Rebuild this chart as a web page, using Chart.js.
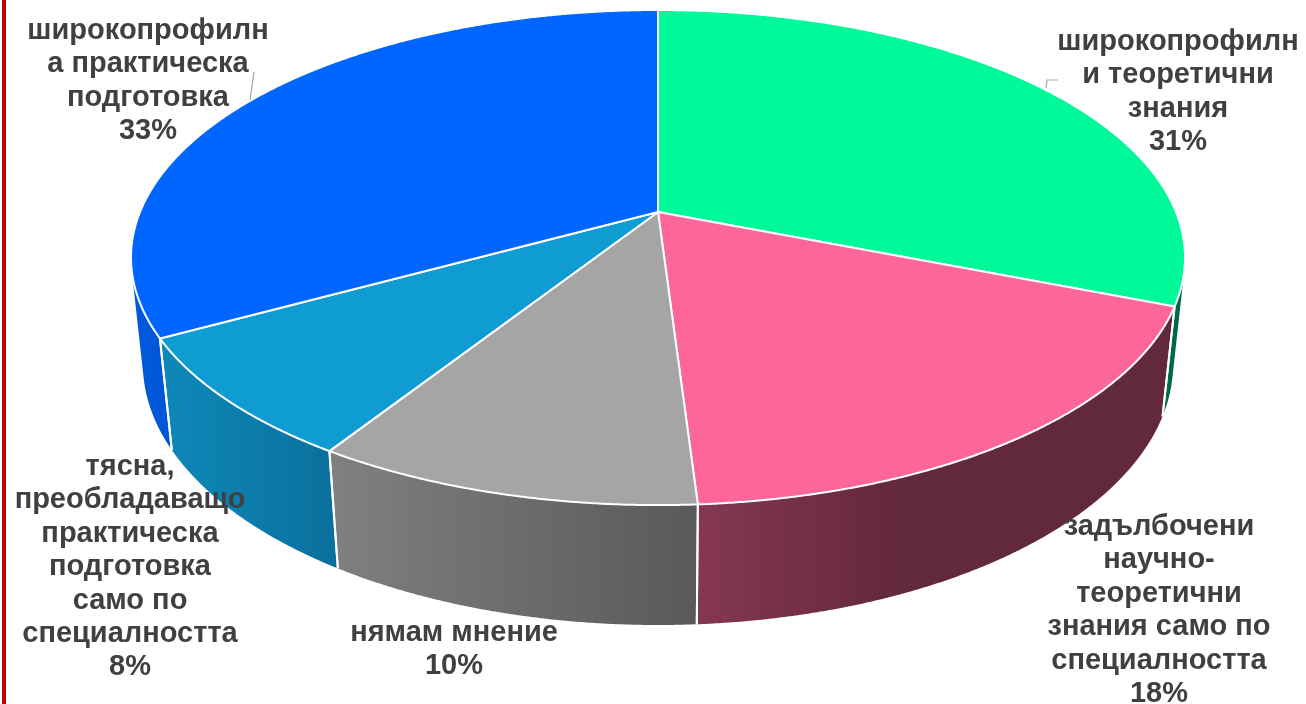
<!DOCTYPE html>
<html><head><meta charset="utf-8">
<script src="https://cdn.jsdelivr.net/npm/chart.js@4/dist/chart.umd.min.js"></script>
<style>
html,body{margin:0;padding:0;background:#fff;overflow:hidden}
#wrap{position:relative;width:1306px;height:704px}
#bar{position:absolute;left:2px;top:0;width:4px;height:704px;background:#C00000}
</style></head><body>
<div id="wrap"><canvas id="c" width="1306" height="704"></canvas><div id="bar"></div></div>
<script>
// ---- data ----
const categories = [
  ["широкопрофилн", "и теоретични", "знания"],
  ["задълбочени", "научно-", "теоретични", "знания само по", "специалността"],
  ["нямам мнение"],
  ["тясна,", "преобладаващо", "практическа", "подготовка", "само по", "специалността"],
  ["широкопрофилн", "а практическа", "подготовка"]
];
const shares = [31, 18, 10, 8, 33];
const percentLabels = shares.map(v => v + "%");

// ---- styles / layout ----
const topColors = ["#00FA9A", "#FC6699", "#A5A5A5", "#0E9CD3", "#0066FF"];
const wallStops = [
  [[0, "#006E42"], [1, "#00663C"]],
  [[0, "#853754"], [0.43, "#62283C"], [1, "#62283C"]],
  [[0, "#808080"], [1, "#595959"]],
  [[0, "#0E89B9"], [1, "#0A6F9C"]],
  [[0, "#005ADE"], [1, "#0055D6"]]
];
const labelAnchor = [[1178, 42], [1159, 527], [454, 633], [130, 467], [148, 31]];
const leaderLines = [
  [[1058, 80], [1047, 80], [1046, 88]],
  null, null, null,
  [[254, 72], [250, 100]]
];
const VIEW = { K: 518, D: 4.82, sinE: 0.4617, cosE: 0.887, depth: 0.233 };
const LINE_H = 33.4;

function project(cx, cy, u, w, y) {
  const den = 1 - (w * VIEW.cosE - y * VIEW.sinE) / VIEW.D;
  return [cx + VIEW.K * u / den, cy + VIEW.K * (w * VIEW.sinE + y * VIEW.cosE) / den];
}

const pie3d = {
  id: "pie3d",
  beforeDatasetsDraw(chart) {
    const ctx = chart.ctx;
    const arcs = chart.getDatasetMeta(0).data;
    const aMin = Math.asin(1 / (VIEW.D * VIEW.cosE));
    const aMax = Math.PI - aMin;
    const step = Math.PI / 720;
    ctx.save();
    // walls
    const bounds = [];
    arcs.forEach((arc, i) => {
      const cx = arc.x, cy = arc.y;
      const a0 = Math.max(arc.startAngle, aMin), a1 = Math.min(arc.endAngle, aMax);
      if (a0 >= a1) return;
      const top = [], bot = [];
      for (let a = a0; a < a1; a += step) {
        top.push(project(cx, cy, Math.cos(a), Math.sin(a), 0));
        bot.push(project(cx, cy, Math.cos(a), Math.sin(a), VIEW.depth));
      }
      top.push(project(cx, cy, Math.cos(a1), Math.sin(a1), 0));
      bot.push(project(cx, cy, Math.cos(a1), Math.sin(a1), VIEW.depth));
      ctx.beginPath();
      ctx.moveTo(top[0][0], top[0][1]);
      top.forEach(p => ctx.lineTo(p[0], p[1]));
      for (let k = bot.length - 1; k >= 0; k--) ctx.lineTo(bot[k][0], bot[k][1]);
      ctx.closePath();
      const xs = top.concat(bot).map(p => p[0]);
      const xl = Math.min(...xs), xr = Math.max(...xs);
      const g = ctx.createLinearGradient(xl, 0, xr, 0);
      wallStops[i].forEach(s => g.addColorStop(s[0], s[1]));
      ctx.fillStyle = g;
      ctx.fill();
      [arc.startAngle, arc.endAngle].forEach(a => {
        if (a > aMin && a < aMax) bounds.push([project(cx, cy, Math.cos(a), Math.sin(a), 0), project(cx, cy, Math.cos(a), Math.sin(a), VIEW.depth)]);
      });
    });
    ctx.strokeStyle = "#FFFFFF";
    ctx.lineWidth = 2;
    bounds.forEach(b => {
      ctx.beginPath();
      ctx.moveTo(b[0][0], b[0][1]);
      ctx.lineTo(b[1][0], b[1][1]);
      ctx.stroke();
    });
    // top faces
    ctx.lineJoin = "round";
    arcs.forEach((arc, i) => {
      const cx = arc.x, cy = arc.y;
      ctx.beginPath();
      ctx.moveTo(cx, cy);
      for (let a = arc.startAngle; a < arc.endAngle; a += step) {
        const p = project(cx, cy, Math.cos(a), Math.sin(a), 0);
        ctx.lineTo(p[0], p[1]);
      }
      const pe = project(cx, cy, Math.cos(arc.endAngle), Math.sin(arc.endAngle), 0);
      ctx.lineTo(pe[0], pe[1]);
      ctx.closePath();
      ctx.fillStyle = arc.options.backgroundColor;
      ctx.fill();
      ctx.strokeStyle = "#FFFFFF";
      ctx.lineWidth = 2;
      ctx.stroke();
    });
    ctx.restore();
    return false;
  },
  afterDraw(chart) {
    const ctx = chart.ctx;
    ctx.save();
    ctx.strokeStyle = "#A6A6A6";
    ctx.lineWidth = 1.2;
    leaderLines.forEach(l => {
      if (!l) return;
      ctx.beginPath();
      ctx.moveTo(l[0][0], l[0][1]);
      for (let k = 1; k < l.length; k++) ctx.lineTo(l[k][0], l[k][1]);
      ctx.stroke();
    });
    ctx.font = 'bold 29px "Liberation Sans", Arial, sans-serif';
    ctx.fillStyle = "#404040";
    ctx.textAlign = "center";
    ctx.textBaseline = "middle";
    chart.data.labels.forEach((lab, i) => {
      const lines = lab.concat([percentLabels[i]]);
      const [x, y] = labelAnchor[i];
      lines.forEach((t, k) => ctx.fillText(t, x, y + k * LINE_H));
    });
    ctx.restore();
  }
};

new Chart(document.getElementById("c"), {
  type: "pie",
  data: {
    labels: categories,
    datasets: [{ data: shares, backgroundColor: topColors, borderColor: "#FFFFFF", borderWidth: 2 }]
  },
  options: {
    responsive: false,
    devicePixelRatio: 1,
    animation: false,
    events: [],
    layout: { padding: { left: 10, right: 0, top: 0, bottom: 280 } },
    plugins: { legend: { display: false }, tooltip: { enabled: false } }
  },
  plugins: [pie3d]
});
</script>
</body></html>
